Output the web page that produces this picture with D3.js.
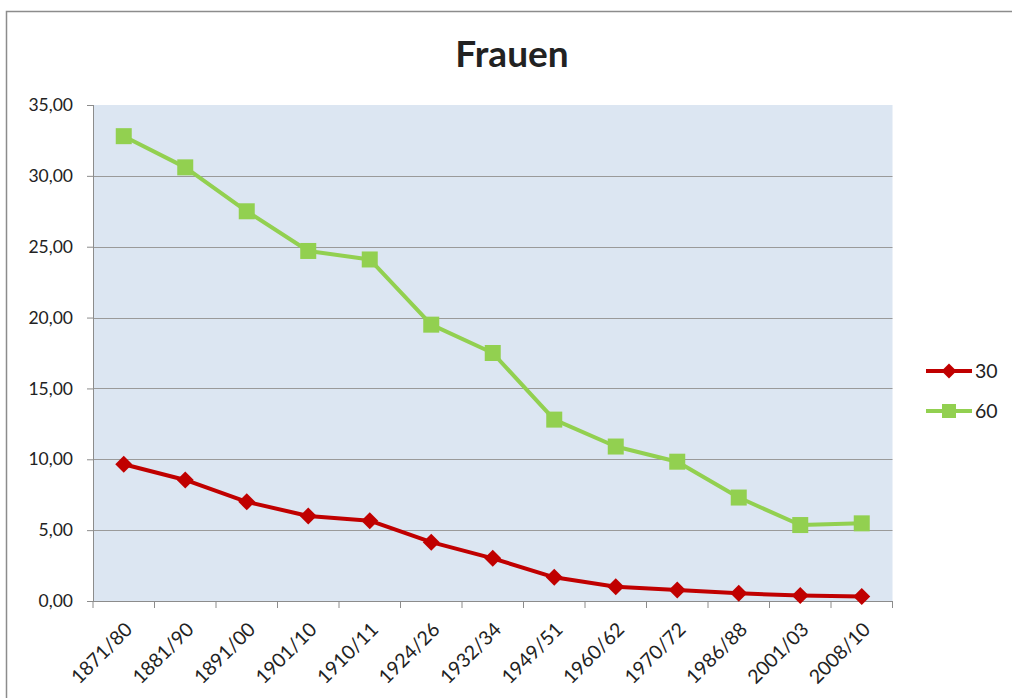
<!DOCTYPE html>
<html><head><meta charset="utf-8">
<script src="https://cdn.jsdelivr.net/npm/d3@7"></script>
<style>body{margin:0;background:#fff}svg{display:block}text{font-family:Lato,"Open Sans",sans-serif;fill:#222}</style>
</head><body>
<script>
const categories = ["1871/80","1881/90","1891/00","1901/10","1910/11","1924/26","1932/34","1949/51","1960/62","1970/72","1986/88","2001/03","2008/10"];
const series30 = [9.65,8.54,7.0,6.0,5.67,4.15,3.01,1.67,1.01,0.78,0.54,0.38,0.31];
const series60 = [32.8,30.6,27.5,24.7,24.1,19.5,17.5,12.8,10.9,9.83,7.3,5.36,5.48];
const yTicks = [0,5,10,15,20,25,30,35];
const seriesNames = ["30","60"];

const W=1012,H=698;
const svg=d3.select("body").append("svg").attr("width",W).attr("height",H);
svg.append("rect").attr("x",6.5).attr("y",11.5).attr("width",W+10).attr("height",H+10).attr("fill","#fff").attr("stroke","#8c8c8c").attr("stroke-width",1.5);

const L=93,R=892.5,T=105,B=601;
const x=d3.scaleBand().domain(categories).range([L,R]);
const y=d3.scaleLinear().domain([0,35]).range([B,T]);

svg.append("rect").attr("x",L).attr("y",T).attr("width",R-L).attr("height",B-T).attr("fill","#DCE6F2");
svg.append("g").selectAll("line").data(yTicks.filter(v=>v>0&&v<35)).join("line")
 .attr("x1",L).attr("x2",R).attr("y1",d=>Math.round(y(d))+0.5).attr("y2",d=>Math.round(y(d))+0.5)
 .attr("stroke","#9a9a9a").attr("stroke-width",1);

const fmt=d=>d.toFixed(2).replace(".",",");
const ya=svg.append("g").attr("transform",`translate(${L},0)`).call(d3.axisLeft(y).tickValues(yTicks).tickFormat(fmt).tickSize(6).tickPadding(14));
ya.select(".domain").attr("stroke","#8c8c8c").attr("d",`M0.5,${T}V${B}`);
ya.selectAll(".tick line").attr("stroke","#8c8c8c");
ya.selectAll(".tick text").attr("font-size",17.5).attr("fill","#222").style("font-family","Lato,sans-serif");

// x axis
const xg=svg.append("g");
xg.append("line").attr("x1",L).attr("x2",R).attr("y1",B+0.5).attr("y2",B+0.5).attr("stroke","#8c8c8c");
const edges=categories.map(c=>x(c)).concat([R]);
xg.selectAll("line.t").data(edges).join("line").attr("class","t")
 .attr("x1",d=>d).attr("x2",d=>d).attr("y1",B).attr("y2",B+7).attr("stroke","#8c8c8c");
xg.selectAll("text").data(categories).join("text")
 .attr("transform",d=>`translate(${x(d)+x.bandwidth()/2+5},${B+25}) rotate(-45)`)
 .attr("text-anchor","end").attr("dy","0.35em").attr("font-size",19.5).text(d=>d);

// title
svg.append("text").attr("x",512).attr("y",67).attr("text-anchor","middle").attr("font-size",37).attr("font-weight","bold").attr("fill","#000").text("Frauen");

const cx=d=>x(d)+x.bandwidth()/2;
const line=d3.line().x((d,i)=>cx(categories[i])).y(d=>y(d));
const colors=["#C00000","#92D050"];
const data=[series30,series60];
const diamond=(s)=>`M0,${-s}L${s},0L0,${s}L${-s},0Z`;

data.forEach((vals,k)=>{
  svg.append("path").datum(vals).attr("d",line).attr("fill","none").attr("stroke",colors[k]).attr("stroke-width",4).attr("stroke-linejoin","round");
  const g=svg.append("g");
  if(k===0){
    g.selectAll("path").data(vals).join("path").attr("d",diamond(8.5))
     .attr("transform",(d,i)=>`translate(${cx(categories[i])},${y(d)})`).attr("fill",colors[k]);
  } else {
    g.selectAll("rect").data(vals).join("rect").attr("width",16).attr("height",16)
     .attr("x",(d,i)=>cx(categories[i])-8).attr("y",d=>y(d)-8).attr("fill",colors[k]);
  }
});

// legend
const lg=svg.append("g");
seriesNames.forEach((n,k)=>{
  const ly=371+k*40;
  lg.append("line").attr("x1",926).attr("x2",972).attr("y1",ly).attr("y2",ly).attr("stroke",colors[k]).attr("stroke-width",4);
  if(k===0) lg.append("path").attr("d",diamond(7.5)).attr("transform",`translate(949,${ly})`).attr("fill",colors[k]);
  else lg.append("rect").attr("x",942).attr("y",ly-7).attr("width",14).attr("height",14).attr("fill",colors[k]);
  lg.append("text").attr("x",975).attr("y",ly).attr("dy","0.35em").attr("font-size",19.5).text(n);
});
</script>
</body></html>
